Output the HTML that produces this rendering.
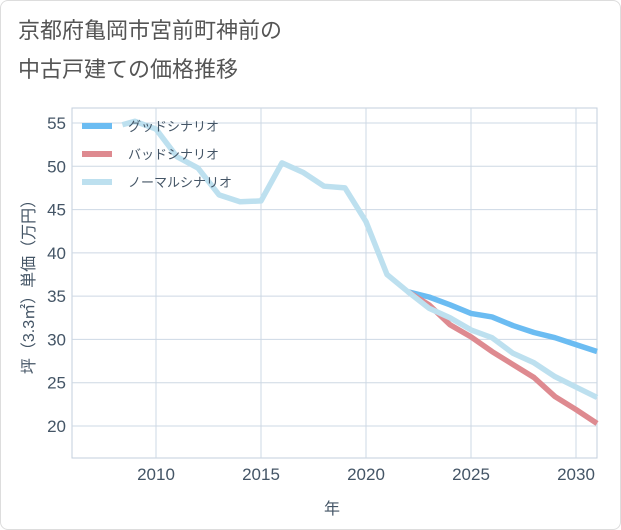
<!DOCTYPE html>
<html><head><meta charset="utf-8"><style>
body{margin:0;background:#fff;font-family:"Liberation Sans","Noto Sans CJK JP",sans-serif;}
#wrap{position:relative;width:619px;height:528px;border:1px solid #ddd;border-radius:8px;background:#fff;}
</style></head><body>
<div id="wrap">
<svg id="chart" width="621" height="530" style="position:absolute;left:-1px;top:-1px">
<text x="18" y="38" font-size="22" fill="#555">京都府亀岡市宮前町神前の</text>
<text x="18" y="77" font-size="22" fill="#555">中古戸建ての価格推移</text>
<g id="grid"></g><g id="series"></g><g id="legend"></g>
<text x="332" y="514" font-size="16" fill="#456" text-anchor="middle">年</text>
<text transform="translate(34,283) rotate(-90)" font-size="16" fill="#456" text-anchor="middle">坪（3.3㎡）単価（万円）</text>
</svg></div>
<script>
const xTicks=[2010,2015,2020,2025,2030];
const yTicks=[20,25,30,35,40,45,50,55];
const normalYears=[2008.4,2009,2010,2011,2012,2013,2014,2015,2016,2017,2018,2019,2020,2021,2022,2023,2024,2025,2026,2027,2028,2029,2030,2031];
const normalVals=[54.8,55.2,54.3,51.1,49.8,46.7,45.9,46.0,50.4,49.3,47.7,47.5,43.6,37.5,35.5,33.6,32.5,31.1,30.2,28.4,27.3,25.7,24.5,23.3];
const forecastYears=[2022,2023,2024,2025,2026,2027,2028,2029,2030,2031];
const goodVals=[35.5,34.9,34.0,33.0,32.6,31.6,30.8,30.2,29.4,28.6];
const badVals=[35.5,34.0,31.7,30.3,28.6,27.1,25.6,23.4,21.9,20.3];
const L=72,R=597,T=108,B=458;
const xs=y=>156+(y-2010)*21;
const ys=v=>123+(55-v)*8.657;
const NS="http://www.w3.org/2000/svg";
function mk(t,a,p){const e=document.createElementNS(NS,t);for(const k in a)e.setAttribute(k,a[k]);p.appendChild(e);return e;}
const g=document.getElementById('grid');
mk('rect',{x:L,y:T,width:R-L,height:B-T,fill:'none',stroke:'#c3cfdc'},g);
yTicks.forEach(v=>{const l=mk('line',{x1:L,x2:R,y1:ys(v),y2:ys(v),stroke:'#cdd8e4'},g);

const t=mk('text',{x:L-6,y:ys(v)+6,'font-size':17,fill:'#456','text-anchor':'end'},g);t.textContent=v;
});
xTicks.forEach(v=>{const l=mk('line',{y1:T,y2:B,x1:xs(v),x2:xs(v),stroke:'#cdd8e4'},g);

const t=mk('text',{x:xs(v),y:B+22,'font-size':17,fill:'#456','text-anchor':'middle'},g);t.textContent=v;
});
const s=document.getElementById('series');
function line(xsArr,vs,col,name){const p=mk('polyline',{points:xsArr.map((y,i)=>xs(y)+','+ys(vs[i])).join(' '),fill:'none',stroke:col,'stroke-width':5.5,'stroke-linejoin':'round'},s);
}
line(forecastYears,goodVals,'#6bbcf2','good-scenario-line');
line(forecastYears,badVals,'#de8a90','bad-scenario-line');
line(normalYears,normalVals,'#bde0ef','normal-scenario-line');
const lg=document.getElementById('legend');
[['グッドシナリオ','#6bbcf2'],['バッドシナリオ','#de8a90'],['ノーマルシナリオ','#bde0ef']].forEach((d,i)=>{
const y=126+i*28;
const r=mk('rect',{x:82,y:y-3,width:30,height:6,fill:d[1]},lg);

const t=mk('text',{x:128,y:y+5,'font-size':13,fill:'#456'},lg);t.textContent=d[0];
});
</script>
</body></html>
